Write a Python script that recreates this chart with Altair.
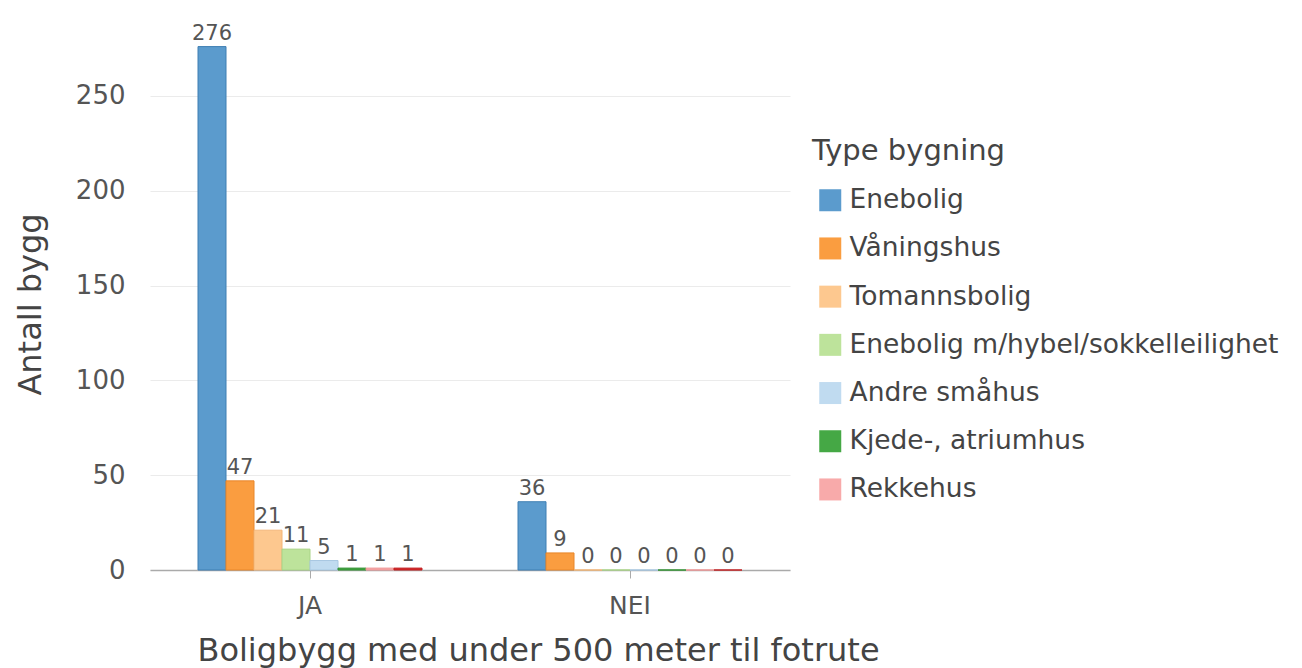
import altair as alt
import pandas as pd

groups = ["JA", "NEI"]
types = [
    "Enebolig",
    "Våningshus",
    "Tomannsbolig",
    "Enebolig m/hybel/sokkelleilighet",
    "Andre småhus",
    "Kjede-, atriumhus",
    "Rekkehus",
    "Store frittliggende boligbygg",
]
ja_values = [276, 47, 21, 11, 5, 1, 1, 1]
nei_values = [36, 9, 0, 0, 0, 0, 0, 0]
colors = ["#5b9bcd", "#fa9d40", "#fdc88f", "#bde39b", "#c0dbf0", "#45a845", "#f8aaaa", "#d62728"]
strokes = ["#3f7fb3", "#e8862a", "#f3b577", "#a9d487", "#a8c8e2", "#2f8f2f", "#ee9595", "#c01f20"]
y_ticks = [0, 50, 100, 150, 200, 250]

rows = []
for g, vals in zip(groups, [ja_values, nei_values]):
    for t, v in zip(types, vals):
        rows.append({"group": g, "type": t, "value": v})
df = pd.DataFrame(rows)

FONT = "DejaVu Sans"

x_enc = alt.X(
    "group:N",
    sort=groups,
    scale=alt.Scale(paddingInner=0.3, paddingOuter=0.15),
    axis=alt.Axis(
        title="Boligbygg med under 500 meter til fotrute",
        labelAngle=0,
        labelFontSize=25,
        labelColor="#555555",
        labelPadding=15,
        tickSize=8,
        tickColor="#aaaaaa",
        domainColor="#aaaaaa",
        domainWidth=1.5,
        titleFontSize=32,
        titleFontWeight="normal",
        titleColor="#444444",
        titleX=388,
        titleY=80,
        titleAlign="center",
        titleBaseline="middle",
    ),
)
xo_enc = alt.XOffset("type:N", sort=types, scale=alt.Scale(paddingInner=0, paddingOuter=0))
y_enc = alt.Y(
    "value:Q",
    scale=alt.Scale(domain=[0, 280], nice=False),
    axis=alt.Axis(
        title="Antall bygg",
        values=y_ticks,
        ticks=False,
        domain=False,
        grid=True,
        gridColor="#ebebeb",
        gridWidth=1.2,
        labelFontSize=26,
        labelColor="#555555",
        labelPadding=25,
        titleFontSize=32,
        titleFontWeight="normal",
        titleColor="#444444",
        titleX=-120,
        titleY=265,
        titleAngle=270,
        titleAlign="center",
        titleBaseline="middle",
    ),
)

bars = alt.Chart(df).mark_bar(strokeWidth=1).encode(
    x=x_enc,
    xOffset=xo_enc,
    y=y_enc,
    color=alt.Color(
        "type:N",
        sort=types,
        scale=alt.Scale(domain=types, range=colors),
        legend=alt.Legend(
            title="Type bygning",
            values=types[:7],
            orient="none",
            legendX=662,
            legendY=98,
            symbolType="square",
            symbolSize=484,
            symbolStrokeWidth=0,
            symbolOffset=5,
            labelFontSize=26.5,
            labelColor="#444444",
            labelLimit=600,
            labelOffset=6,
            titleFontSize=29,
            titleFontWeight="normal",
            titleColor="#444444",
            titleLimit=500,
            titlePadding=21,
            rowPadding=21.2,
        ),
    ),
    stroke=alt.Stroke("type:N", sort=types, scale=alt.Scale(domain=types, range=strokes), legend=None),
)

labels = alt.Chart(df).mark_text(
    baseline="alphabetic", dy=-7, fontSize=21, color="#555555", font=FONT
).encode(
    x=alt.X("group:N", sort=groups),
    xOffset=alt.XOffset("type:N", sort=types),
    y=alt.Y("value:Q"),
    text=alt.Text("value:Q"),
)

chart = (
    alt.layer(bars, labels)
    .properties(
        width=640,
        height=531,
        autosize=alt.AutoSizeParams(type="none"),
        padding={"left": 142, "top": 31, "right": 496, "bottom": 98},
    )
    .configure(font=FONT)
    .configure_view(stroke=None)
)

chart.save("out.html", embed_options={"renderer": "svg", "actions": False})
